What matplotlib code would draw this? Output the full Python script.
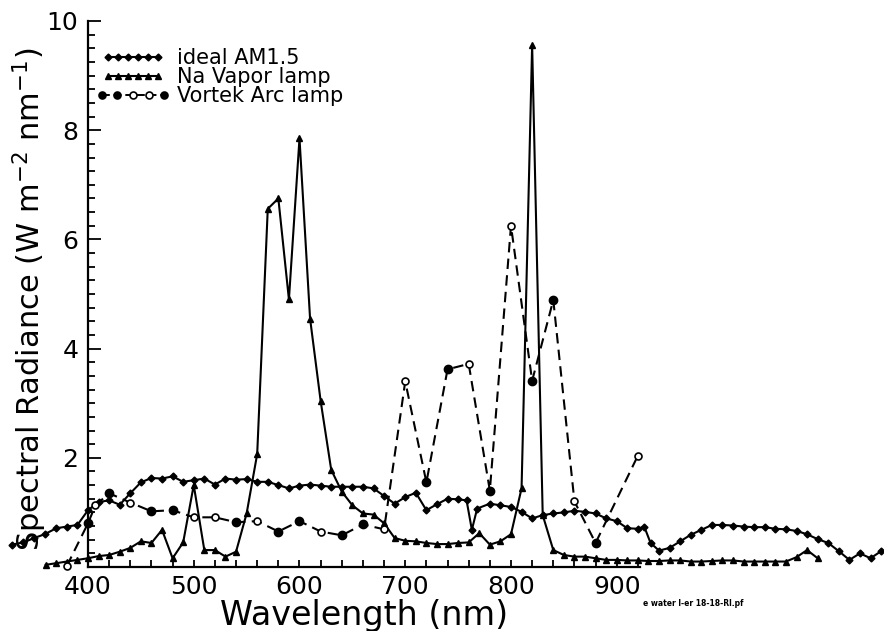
import matplotlib
matplotlib.use('Agg')
import matplotlib.pyplot as plt
import numpy as np
from matplotlib.lines import Line2D
from matplotlib.legend_handler import HandlerLine2D

# ideal AM1.5 spectrum
am_wl = [328, 339, 349, 359, 370, 380, 390, 400, 410, 420, 430, 440, 450, 460, 470, 480, 490, 500,
         510, 520, 530, 540, 550, 560, 570, 580, 590, 600, 610, 620, 630, 640, 650, 660, 670, 680,
         690, 700, 710, 720, 730, 740, 750, 758, 763, 768, 780, 790, 800, 810, 820, 830, 840, 850,
         860, 870, 880, 890, 900, 910, 920, 926, 932, 940, 950, 960, 970, 980, 990, 1000, 1010,
         1020, 1030, 1040, 1050, 1060, 1070, 1080, 1090, 1100, 1110, 1120, 1130, 1140, 1150]
am_val = [0.41, 0.45, 0.53, 0.60, 0.71, 0.74, 0.77, 1.04, 1.19, 1.22, 1.14, 1.35, 1.55, 1.63, 1.62,
          1.66, 1.56, 1.59, 1.62, 1.51, 1.62, 1.60, 1.61, 1.56, 1.56, 1.50, 1.44, 1.49, 1.51, 1.49,
          1.47, 1.47, 1.47, 1.47, 1.44, 1.30, 1.16, 1.28, 1.36, 1.04, 1.15, 1.25, 1.24, 1.22, 0.68,
          1.07, 1.16, 1.13, 1.10, 1.01, 0.89, 0.95, 0.98, 1.00, 1.03, 1.01, 0.98, 0.89, 0.84, 0.71,
          0.70, 0.74, 0.44, 0.30, 0.35, 0.47, 0.59, 0.68, 0.77, 0.77, 0.76, 0.74, 0.73, 0.73, 0.70,
          0.69, 0.66, 0.60, 0.51, 0.44, 0.29, 0.13, 0.25, 0.16, 0.29]

# Na vapor lamp
na_wl = list(range(360, 1100, 10))
na_val = [0.04, 0.07, 0.10, 0.13, 0.16, 0.20, 0.22, 0.28, 0.35, 0.47, 0.44, 0.68, 0.16, 0.45, 1.50,
          0.31, 0.31, 0.19, 0.28, 0.98, 2.07, 6.56, 6.75, 4.90, 7.85, 4.55, 3.04, 1.78, 1.38, 1.13,
          0.98, 0.96, 0.80, 0.53, 0.48, 0.47, 0.44, 0.42, 0.42, 0.44, 0.45, 0.62, 0.41, 0.47, 0.60,
          1.44, 9.56, 0.95, 0.31, 0.22, 0.19, 0.19, 0.16, 0.13, 0.13, 0.12, 0.12, 0.11, 0.11, 0.12,
          0.12, 0.10, 0.10, 0.11, 0.12, 0.12, 0.10, 0.10, 0.10, 0.10, 0.10, 0.18, 0.31, 0.16]

# Vortek arc lamp (filled / open circles)
vo_wl = [380, 400, 407, 420, 440, 460, 480, 500, 520, 540, 560, 580, 600, 620, 640, 660, 680, 700,
         720, 740, 760, 780, 800, 820, 840, 860, 880, 920]
vo_val = [0.02, 0.80, 1.13, 1.35, 1.18, 1.02, 1.04, 0.91, 0.91, 0.82, 0.84, 0.65, 0.84, 0.65, 0.58,
          0.78, 0.69, 3.40, 1.55, 3.62, 3.72, 1.40, 6.25, 3.41, 4.89, 1.20, 0.44, 2.04]
vo_filled = [0, 1, 0, 1, 0, 1, 1, 0, 0, 1, 0, 1, 1, 0, 1, 1, 0, 0, 1, 1, 0, 1, 0, 1, 1, 0, 1, 0]


class AltHandler(HandlerLine2D):
    # legend entry: dashed line with filled/open circles
    def create_artists(self, legend, orig_handle, xdescent, ydescent, width, height, fontsize, trans):
        xs = np.linspace(-xdescent, width - xdescent, 5)
        y = (height - ydescent) / 2
        ln = Line2D(xs, [y] * 5, color='k', lw=1.4, ls=(0, (4, 2)), transform=trans)
        arts = [ln]
        for i, x in enumerate(xs):
            fc = 'white' if i in (2, 3) else 'black'
            arts.append(Line2D([x], [y], marker='o', ms=5, mfc=fc, mec='k', mew=1.2,
                               ls='none', transform=trans))
        return arts


fig = plt.figure(figsize=(8.84, 6.31), dpi=100)
ax = fig.add_axes([88 / 884, 64 / 631, 552 / 884, 546 / 631])

ax.plot(am_wl, am_val, color='k', lw=1.5, marker='D', ms=3.5, clip_on=False, zorder=3)
ax.plot(na_wl, na_val, color='k', lw=1.5, marker='^', ms=5, clip_on=False, zorder=3)
ax.plot(vo_wl, vo_val, color='k', lw=1.5, ls=(0, (5, 3)), clip_on=False, zorder=2)
vw = np.array(vo_wl)
vv = np.array(vo_val)
vf = np.array(vo_filled, dtype=bool)
ax.plot(vw[vf], vv[vf], ls='none', marker='o', ms=6, mfc='k', mec='k', clip_on=False, zorder=4)
ax.plot(vw[~vf], vv[~vf], ls='none', marker='o', ms=5, mfc='white', mec='k', mew=1.2,
        clip_on=False, zorder=4)

ax.set_xlim(400, 922)
ax.set_ylim(0, 10)
ax.spines['top'].set_visible(False)
ax.spines['right'].set_visible(False)
ax.spines['left'].set_linewidth(1.6)
ax.spines['bottom'].set_linewidth(1.6)

ax.set_xticks([400, 500, 600, 700, 800, 900])
ax.set_xticks(np.arange(400, 921, 20), minor=True)
ax.set_yticks([2, 4, 6, 8, 10])
ax.set_yticks(np.arange(0, 10.01, 0.25), minor=True)
ax.tick_params(axis='both', which='both', direction='in', width=1.3, labelsize=18)
ax.tick_params(axis='x', which='both', length=5, pad=6)
ax.tick_params(axis='y', which='major', length=9, pad=7)
ax.tick_params(axis='y', which='minor', length=5)

ax.set_xlabel('Wavelength (nm)', fontsize=24, labelpad=0)
ax.set_ylabel('Spectral Radiance (W m$^{-2}$ nm$^{-1}$)', fontsize=22)
ax.yaxis.set_label_coords(-0.07, 0.49)

h_am = Line2D([], [], color='k', lw=1.5, marker='D', ms=3.5)
h_na = Line2D([], [], color='k', lw=1.5, marker='^', ms=5)
h_vo = Line2D([], [], color='k', lw=1.5, ls='--')
ax.legend([h_am, h_na, h_vo], ['ideal AM1.5', 'Na Vapor lamp', 'Vortek Arc lamp'],
          handler_map={h_vo: AltHandler()}, numpoints=6, frameon=False, fontsize=15,
          loc='upper left', bbox_to_anchor=(0.01, 0.965), handlelength=3.0,
          handletextpad=0.6, labelspacing=-0.05, borderaxespad=0)

fig.text(643 / 884, 1 - 604 / 631, 'e water l-er 18-18-Rl.pf', fontsize=5.5, fontweight='bold',
         va='center')

fig.savefig('out.png', dpi=100)
